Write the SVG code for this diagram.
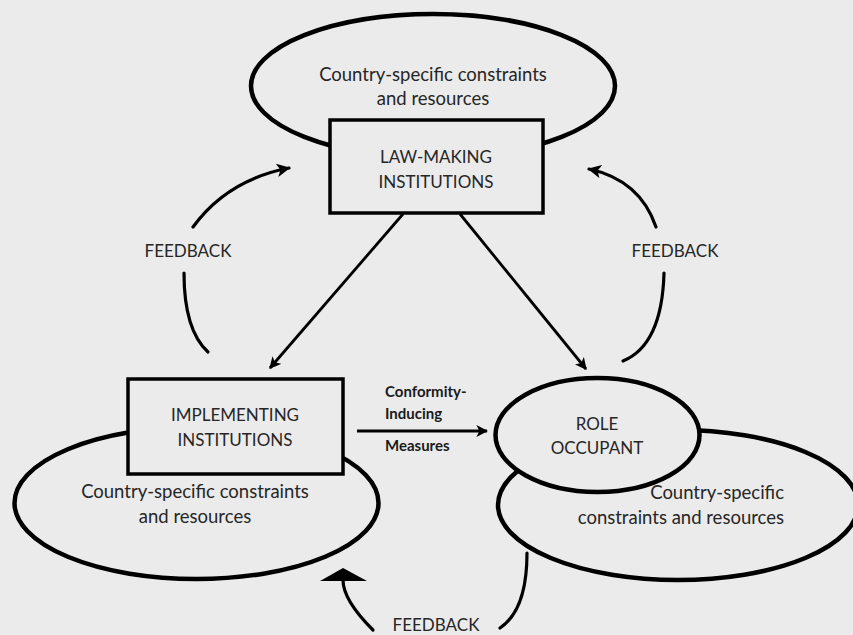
<svg xmlns="http://www.w3.org/2000/svg" width="853" height="635" viewBox="0 0 853 635">
  <style>
    .bg { fill: #ebebeb; }
    .ell { fill: #ebebeb; stroke: #000; stroke-width: 4.5; }
    .box { fill: #ebebeb; stroke: #000; stroke-width: 3.5; }
    .ln { fill: none; stroke: #000; stroke-width: 2.8; }
    .arc { fill: none; stroke: #000; stroke-width: 3.2; stroke-linecap: round; }
    .t { font-family: Lato, "Liberation Sans", sans-serif; font-size: 17px; fill: #262626; text-anchor: middle; }
    .l { font-size: 18.5px; }
    .b { font-family: Lato, "Liberation Sans", sans-serif; font-size: 15px; font-weight: bold; fill: #1a1a1a; }
  </style>
  <defs>
    <marker id="ah" viewBox="0 0 10 10" refX="9" refY="5" markerWidth="4.2" markerHeight="4.2" orient="auto" markerUnits="strokeWidth">
      <path d="M0,0 L10,5 L0,10 L2.5,5 z" fill="#000"/>
    </marker>
  </defs>
  <rect class="bg" x="0" y="0" width="853" height="635"/>

  <g id="law-making">
    <ellipse class="ell" cx="433" cy="86" rx="182" ry="72"/>
    <text class="t l" x="433" y="81">Country-specific constraints</text>
    <text class="t l" x="433" y="105">and resources</text>
    <rect class="box" x="330" y="120" width="213" height="93"/>
    <text class="t" x="436" y="163">LAW-MAKING</text>
    <text class="t" x="436" y="188">INSTITUTIONS</text>
  </g>

  <g id="implementing">
    <ellipse class="ell" cx="196.5" cy="503" rx="182" ry="76"/>
    <text class="t l" x="195" y="498">Country-specific constraints</text>
    <text class="t l" x="195" y="523">and resources</text>
    <rect class="box" x="128" y="379" width="215" height="95"/>
    <text class="t" x="235" y="421">IMPLEMENTING</text>
    <text class="t" x="235" y="446">INSTITUTIONS</text>
  </g>

  <g id="role-occupant">
    <ellipse class="ell" cx="678" cy="505" rx="180" ry="75"/>
    <text class="t l" x="784" y="499" style="text-anchor:end">Country-specific</text>
    <text class="t l" x="784" y="524" style="text-anchor:end">constraints and resources</text>
    <ellipse class="ell" cx="597.5" cy="435" rx="102" ry="57"/>
    <text class="t" x="597" y="430">ROLE</text>
    <text class="t" x="597" y="454">OCCUPANT</text>
  </g>

  <g id="connectors">
    <line class="ln" x1="403" y1="214" x2="270" y2="368" marker-end="url(#ah)"/>
    <line class="ln" x1="460" y1="214" x2="586" y2="369" marker-end="url(#ah)"/>
    <line class="ln" x1="357" y1="431" x2="487" y2="431" marker-end="url(#ah)"/>
    <path class="arc" d="M193,227 Q227,180 289,168" marker-end="url(#ah)"/>
    <path class="arc" d="M184,273 Q184,330 208,352"/>
    <path class="arc" d="M656,227 Q640,180 589,169" marker-end="url(#ah)"/>
    <path class="arc" d="M664,273 Q662,345 623,361"/>
    <path class="arc" d="M373,630 Q343,600 343,580"/>
    <polygon points="343,568 320,581 367,581" fill="#000"/>
    <path class="arc" d="M527,553 Q527,610 500,628"/>
  </g>

  <g id="labels">
    <text class="t" x="188" y="257">FEEDBACK</text>
    <text class="t" x="675" y="257">FEEDBACK</text>
    <text class="t" x="436" y="631">FEEDBACK</text>
    <text class="b" x="385" y="397">Conformity-</text>
    <text class="b" x="385" y="419">Inducing</text>
    <text class="b" x="385" y="451">Measures</text>
  </g>
</svg>
